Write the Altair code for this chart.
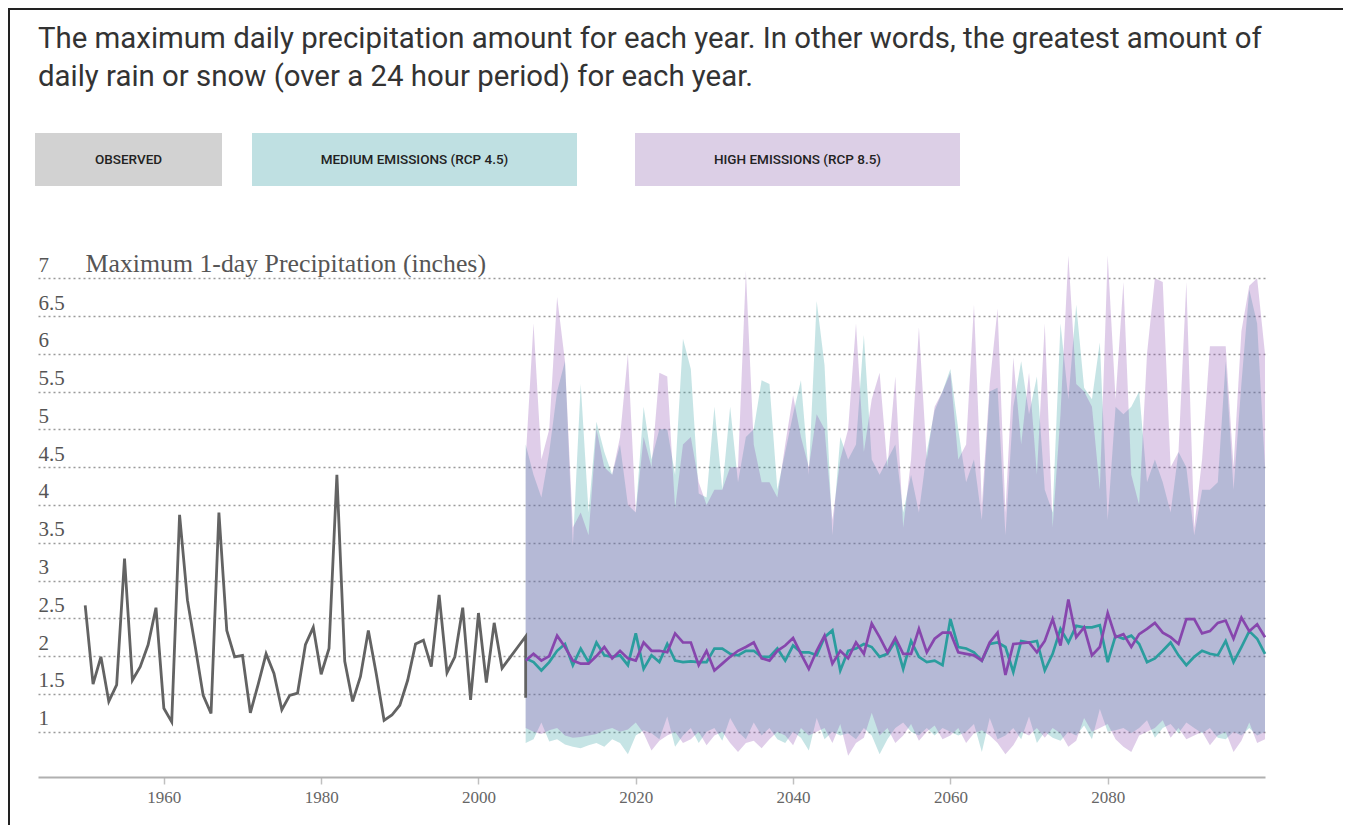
import altair as alt
import pandas as pd

# ---------------- data ----------------
obs_years = list(range(1950, 2007)) + [2006]
obs_values = [2.67, 1.63, 1.99, 1.40, 1.62, 3.29, 1.68, 1.86, 2.15, 2.64,
              1.31, 1.13, 3.87, 2.74, 2.12, 1.48, 1.24, 3.90, 2.34, 1.99,
              2.01, 1.25, 1.63, 2.03, 1.77, 1.29, 1.48, 1.51, 2.15, 2.38,
              1.76, 2.10, 4.40, 1.93, 1.40, 1.73, 2.34, 1.77, 1.15, 1.22,
              1.35, 1.68, 2.16, 2.21, 1.86, 2.81, 1.78, 1.99, 2.64, 1.42,
              2.57, 1.65, 2.44, 1.84, 1.98, 2.12, 2.26, 1.45]

proj_years = list(range(2006, 2101))

rcp45_med = [1.97, 1.92, 1.81, 1.92, 2.07, 2.16, 1.88, 2.10, 1.92, 2.18,
             2.01, 1.99, 2.01, 1.88, 2.30, 1.83, 2.01, 1.92, 2.16, 1.94,
             1.92, 1.93, 1.92, 1.92, 2.10, 2.10, 2.03, 2.01, 2.07, 2.07,
             1.99, 1.99, 2.10, 1.94, 2.14, 2.05, 2.05, 2.01, 2.25, 2.34,
             1.81, 2.07, 2.10, 2.16, 2.12, 1.99, 2.03, 2.20, 1.83, 2.20,
             1.99, 1.92, 1.94, 1.88, 2.49, 2.12, 2.10, 2.05, 1.94, 2.16,
             2.18, 2.12, 1.79, 2.20, 2.18, 2.20, 1.81, 2.03, 2.36, 2.18,
             2.40, 2.38, 2.38, 2.41, 1.92, 2.27, 2.23, 2.27, 2.16, 1.92,
             1.97, 2.07, 2.18, 2.01, 1.88, 1.99, 2.07, 2.03, 2.01, 2.20,
             1.92, 2.12, 2.33, 2.23, 2.03]

rcp85_med = [1.94, 2.03, 1.94, 2.00, 2.27, 2.12, 1.94, 1.90, 1.90, 2.00,
             2.12, 1.97, 2.07, 1.97, 1.94, 2.18, 2.07, 2.07, 2.05, 2.30,
             2.18, 2.18, 1.88, 2.07, 1.81, 1.90, 1.99, 2.07, 2.12, 2.18,
             1.97, 1.94, 2.07, 2.14, 2.24, 2.03, 1.83, 2.07, 2.27, 1.90,
             2.07, 1.97, 2.18, 2.03, 2.43, 2.25, 2.05, 2.24, 2.03, 2.03,
             2.36, 2.05, 2.23, 2.31, 2.31, 2.05, 2.03, 2.01, 1.94, 2.18,
             2.31, 1.75, 2.16, 2.17, 2.18, 2.05, 2.20, 2.49, 2.14, 2.75,
             2.25, 2.38, 2.01, 2.12, 2.57, 2.25, 2.29, 2.12, 2.29, 2.36,
             2.44, 2.31, 2.25, 2.16, 2.49, 2.49, 2.30, 2.33, 2.44, 2.47,
             2.23, 2.51, 2.33, 2.42, 2.25]

rcp45_max = [4.8, 4.4, 4.1, 4.7, 5.5, 5.9, 3.45, 5.6, 3.9, 5.1,
             4.7, 4.4, 4.8, 4.0, 3.9, 5.3, 4.6, 5.0, 5.0, 4.4,
             6.2, 5.8, 4.15, 4.1, 5.3, 4.2, 5.3, 4.3, 4.9, 5.0,
             5.65, 5.6, 4.2, 4.7, 5.2, 5.65, 4.4, 6.7, 5.85, 3.6,
             4.9, 4.6, 4.8, 6.25, 4.6, 4.4, 4.6, 4.8, 3.9, 4.4,
             3.9, 4.7, 5.25, 5.5, 5.8, 5.0, 4.3, 4.6, 3.8, 5.5,
             5.55, 3.6, 5.3, 5.9, 5.2, 5.7, 4.2, 3.9, 6.4, 5.4,
             6.65, 5.55, 5.4, 6.15, 3.8, 5.3, 5.2, 5.3, 5.5, 4.3,
             4.6, 4.3, 3.9, 4.7, 4.5, 3.6, 4.2, 4.2, 4.3, 5.9,
             4.2, 5.6, 6.85, 6.4, 4.5]

rcp85_max = [4.6, 6.4, 4.6, 5.0, 6.75, 5.9, 3.7, 3.9, 3.6, 5.0,
             4.5, 4.4, 4.9, 6.0, 3.9, 4.9, 4.5, 5.75, 5.7, 3.95,
             4.8, 4.9, 4.3, 4.0, 4.2, 4.2, 4.5, 4.5, 7.1, 4.8,
             4.3, 4.3, 4.1, 4.8, 5.45, 4.9, 4.5, 5.2, 5.0, 3.8,
             4.6, 5.0, 6.4, 4.7, 5.4, 5.75, 4.5, 5.7, 3.7, 4.6,
             6.35, 4.6, 5.3, 5.5, 5.75, 4.6, 4.8, 6.65, 4.0, 5.6,
             6.6, 3.9, 5.95, 4.8, 5.75, 4.4, 6.4, 3.7, 5.2, 7.3,
             5.6, 5.5, 5.3, 4.2, 7.3, 5.4, 6.95, 4.4, 4.0, 6.0,
             7.0, 6.95, 4.5, 4.7, 6.95, 3.7, 4.6, 6.1, 6.1, 6.1,
             4.5, 6.3, 6.9, 7.0, 6.0]

rcp45_min = [0.85, 0.90, 1.12, 0.87, 0.90, 0.83, 0.80, 0.78, 0.82, 0.85,
             0.80, 0.90, 0.85, 0.70, 0.95, 1.02, 0.98, 0.90, 1.20, 0.80,
             0.95, 1.05, 0.85, 1.00, 1.05, 0.88, 1.18, 1.00, 0.90, 1.12,
             0.95, 1.05, 0.90, 0.85, 1.00, 0.92, 0.75, 1.18, 0.90, 1.00,
             0.95, 0.98, 0.90, 1.05, 0.95, 0.70, 0.90, 1.05, 1.12, 1.00,
             0.95, 1.05, 0.95, 1.05, 1.00, 0.95, 1.00, 1.10, 0.73, 1.18,
             0.90, 0.95, 1.05, 0.90, 1.20, 0.85, 1.00, 0.92, 0.88, 1.00,
             0.95, 1.08, 0.90, 1.30, 1.00, 1.02, 1.05, 0.98, 1.05, 1.15,
             0.92, 1.05, 1.10, 0.98, 1.12, 1.05, 0.98, 1.05, 0.92, 0.90,
             1.00, 0.95, 1.05, 0.95, 1.00]

rcp85_min = [1.05, 1.00, 0.97, 1.02, 1.05, 0.95, 0.92, 0.93, 0.95, 0.97,
             1.02, 1.05, 1.00, 1.03, 1.12, 0.98, 0.75, 0.88, 0.95, 1.00,
             0.85, 0.90, 1.00, 0.82, 0.95, 1.00, 0.85, 0.73, 0.85, 0.88,
             0.78, 0.90, 1.00, 0.95, 0.82, 1.05, 0.95, 1.00, 1.05, 0.85,
             1.10, 0.68, 0.85, 0.92, 1.25, 0.95, 1.05, 0.85, 0.95, 1.10,
             0.88, 1.00, 1.08, 0.90, 0.95, 1.05, 0.85, 0.98, 1.02, 0.95,
             0.85, 0.70, 0.82, 1.00, 0.95, 1.05, 0.92, 1.05, 0.98, 0.80,
             0.88, 1.18, 1.00, 1.05, 1.10, 0.90, 0.80, 0.73, 0.95, 1.00,
             1.05, 1.15, 0.92, 1.05, 0.90, 0.95, 1.00, 0.82, 0.95, 1.00,
             0.73, 0.88, 1.12, 0.85, 0.90]

y_ticks = [1, 1.5, 2, 2.5, 3, 3.5, 4, 4.5, 5, 5.5, 6, 6.5, 7]
x_ticks = [1960, 1980, 2000, 2020, 2040, 2060, 2080]

title_lines = ["The maximum daily precipitation amount for each year. In other words, the greatest amount of",
               "daily rain or snow (over a 24 hour period) for each year."]
button_labels = ["OBSERVED", "MEDIUM EMISSIONS (RCP 4.5)", "HIGH EMISSIONS (RCP 8.5)"]
y_title = "Maximum 1-day Precipitation (inches)"

obs_df = pd.DataFrame({"year": obs_years, "value": obs_values, "i": range(len(obs_years))})
proj_df = pd.DataFrame({
    "year": proj_years,
    "rcp45_med": rcp45_med, "rcp85_med": rcp85_med,
    "rcp45_max": rcp45_max, "rcp85_max": rcp85_max,
    "rcp45_min": rcp45_min, "rcp85_min": rcp85_min,
})

# ---------------- styling ----------------
W, H = 1227, 529
SERIF = "Liberation Serif"
SANS = "Roboto"
TEAL = "#2b9d9e"
PURPLE = "#8746ad"

x_scale = alt.Scale(domain=[1944, 2100], nice=False, zero=False)
y_scale = alt.Scale(domain=[0.4, 7.4], nice=False, zero=False)

x_axis = alt.Axis(values=x_ticks, format="d", title=None, grid=False,
                  domainColor="#b0b0b0", domainWidth=2, tickColor="#c0c0c0",
                  tickSize=7, tickWidth=1.5, labelFont=SERIF, labelFontSize=17,
                  labelColor="#666666", labelPadding=5)
y_axis = alt.Axis(values=y_ticks, labelExpr="datum.value + ''", domain=False, ticks=False,
                  tickSize=0, grid=True, gridColor="#9a9a9a", gridDash=[2, 3], gridWidth=1.4,
                  labelAlign="left", labelBaseline="alphabetic", labelPadding=0,
                  labelOffset=-7, labelFont=SERIF, labelFontSize=21, labelColor="#555555",
                  title=y_title, titleAngle=0, titleAlign="left", titleBaseline="alphabetic",
                  titleX=47, titleY=23, titleFont=SERIF, titleFontSize=25.8,
                  titleFontWeight="normal", titleColor="#555555")

base = alt.Chart(proj_df)

area45 = base.mark_area(color=TEAL, opacity=0.27).encode(
    x=alt.X("year:Q", scale=x_scale, axis=x_axis),
    y=alt.Y("rcp45_max:Q", scale=y_scale, axis=y_axis),
    y2="rcp45_min:Q",
)
area85 = base.mark_area(color=PURPLE, opacity=0.27).encode(
    x=alt.X("year:Q", scale=x_scale),
    y=alt.Y("rcp85_max:Q", scale=y_scale),
    y2="rcp85_min:Q",
)
obs_line = alt.Chart(obs_df).mark_line(color="#636363", strokeWidth=2.8).encode(
    x=alt.X("year:Q", scale=x_scale),
    y=alt.Y("value:Q", scale=y_scale),
    order="i:Q",
)
line45 = base.mark_line(color=TEAL, strokeWidth=2.7).encode(
    x=alt.X("year:Q", scale=x_scale),
    y=alt.Y("rcp45_med:Q", scale=y_scale),
)
line85 = base.mark_line(color=PURPLE, strokeWidth=2.7).encode(
    x=alt.X("year:Q", scale=x_scale),
    y=alt.Y("rcp85_med:Q", scale=y_scale),
)

one = alt.Data(values=[{}])

# header paragraph
header = alt.Chart(one).mark_text(
    font=SANS, fontSize=29.4, color="#333333", align="left", baseline="alphabetic",
    lineHeight=38
).encode(x=alt.value(0), y=alt.value(-200), text=alt.value(title_lines))

# legend buttons
btn_fill = ["#d2d2d2", "#bfe0e2", "#dccfe6"]
btn_x = [(-3, 184), (214, 539), (597, 922)]
buttons = []
for lab, fill, (x0, x1) in zip(button_labels, btn_fill, btn_x):
    buttons.append(alt.Chart(one).mark_rect(color=fill).encode(
        x=alt.value(x0), x2=alt.value(x1), y=alt.value(-115), y2=alt.value(-62)))
    buttons.append(alt.Chart(one).mark_text(
        font=SANS, fontSize=13.5, fontWeight=500, color="#222222",
        align="center", baseline="middle").encode(
        x=alt.value((x0 + x1) / 2), y=alt.value(-88), text=alt.value(lab)))

# frame lines (top and left)
frame_top = alt.Chart(one).mark_rule(color="#222222", strokeWidth=2).encode(
    x=alt.value(-30), x2=alt.value(1305), y=alt.value(-239))
frame_left = alt.Chart(one).mark_rule(color="#222222", strokeWidth=2).encode(
    x=alt.value(-29), y=alt.value(-240), y2=alt.value(H + 48))

chart = alt.layer(
    area45, area85, obs_line, line45, line85, header, *buttons, frame_top, frame_left
).properties(
    width=W, height=H,
    padding={"left": 30, "top": 240, "right": 78, "bottom": 48},
    autosize=alt.AutoSizeParams(type="none"),
).configure_view(stroke=None)

chart.save("out.html", embed_options={"renderer": "svg", "actions": False})
